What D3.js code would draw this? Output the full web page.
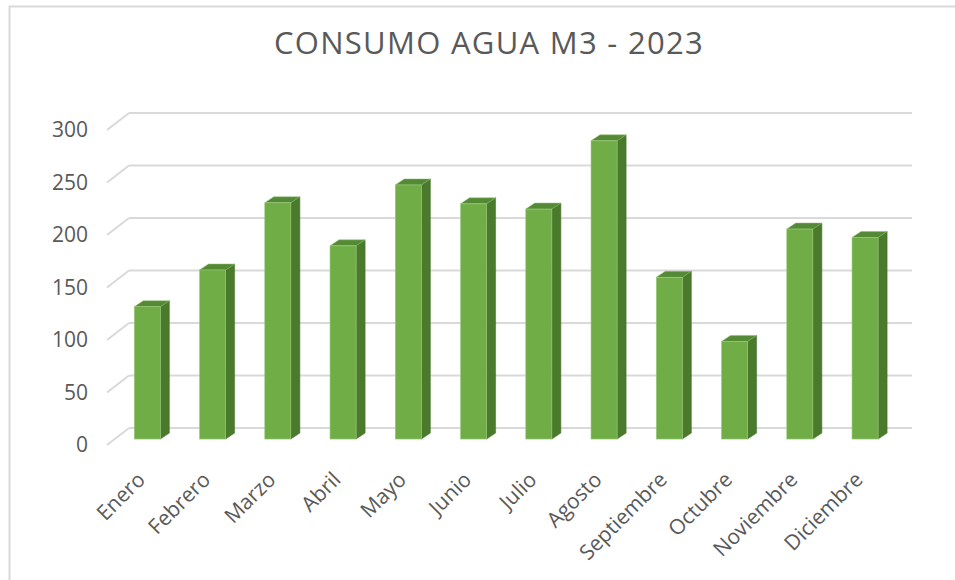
<!DOCTYPE html>
<html>
<head>
<meta charset="utf-8">
<script src="https://cdn.jsdelivr.net/npm/d3@7"></script>
<style>
  body { margin: 0; background: #fff; }
  text { font-family: "Open Sans", "Noto Sans", sans-serif; fill: #595959; }
</style>
</head>
<body>
<script>
var months = ["Enero", "Febrero", "Marzo", "Abril", "Mayo", "Junio", "Julio",
              "Agosto", "Septiembre", "Octubre", "Noviembre", "Diciembre"];
var consumo = [126, 161, 225, 184, 242, 224, 219, 284, 154, 93, 200, 192];
var yTicks = [0, 50, 100, 150, 200, 250, 300];
var title = "CONSUMO AGUA M3 - 2023";

var width = 955, height = 580;

// back wall and depth vector (back -> front)
var backX0 = 129, backX1 = 912;
var depthX = -22, depthY = 17;
var f = 0.65;              // depth of bar front face
var barDX = 9, barDY = -6; // bar thickness

var svg = d3.select("body")
    .append("svg")
    .attr("width", width)
    .attr("height", height);

svg.append("rect")
    .attr("x", 9.5).attr("y", 6.5)
    .attr("width", 1000).attr("height", 1000)
    .attr("fill", "none")
    .attr("stroke", "#d9d9d9")
    .attr("stroke-width", 2);

var yBack = d3.scaleLinear().domain([0, 300]).range([428, 113]);

var yFront = d3.scaleLinear().domain([0, 300])
    .range([yBack(0) + f * depthY, yBack(300) + f * depthY]);

var x = d3.scaleBand().domain(months)
    .range([backX0 + f * depthX, backX1 + f * depthX])
    .paddingInner(0.6)
    .paddingOuter(0.3);

// gridlines on back wall + side wall
var grid = svg.append("g");
yTicks.forEach(function(t) {
  grid.append("line")
      .attr("x1", backX0).attr("x2", backX1)
      .attr("y1", yBack(t)).attr("y2", yBack(t))
      .attr("stroke", "#d9d9d9").attr("stroke-width", 2);
  grid.append("line")
      .attr("x1", backX0 + depthX).attr("y1", yBack(t) + depthY)
      .attr("x2", backX0).attr("y2", yBack(t))
      .attr("stroke", "#d9d9d9").attr("stroke-width", 2);
  svg.append("text")
      .attr("x", 88)
      .attr("y", yBack(t) + depthY)
      .attr("dy", "0.35em")
      .attr("text-anchor", "end")
      .style("font-size", "21px")
      .text(t);
});

// 3d bars
var bars = svg.selectAll(".bar")
    .data(months.map(function(m, i) { return {key: m, value: consumo[i]}; }))
    .enter().append("g")
    .attr("class", "bar");

bars.append("path")   // side
    .attr("d", function(d) {
      var x1 = x(d.key) + x.bandwidth(), y0 = yFront(0), y1 = yFront(d.value);
      return "M" + x1 + "," + y0 + "L" + (x1 + barDX) + "," + (y0 + barDY) +
             "L" + (x1 + barDX) + "," + (y1 + barDY) + "L" + x1 + "," + y1 + "Z";
    })
    .attr("fill", "#4a7a2c")
    .attr("stroke", "#456f29").attr("stroke-width", 0.5);

bars.append("path")   // top
    .attr("d", function(d) {
      var x0 = x(d.key), x1 = x0 + x.bandwidth(), y1 = yFront(d.value);
      return "M" + x0 + "," + y1 + "L" + (x0 + barDX) + "," + (y1 + barDY) +
             "L" + (x1 + barDX) + "," + (y1 + barDY) + "L" + x1 + "," + y1 + "Z";
    })
    .attr("fill", "#548a35")
    .attr("stroke", "#8fbf6c").attr("stroke-width", 0.5);

bars.append("rect")   // front
    .attr("x", function(d) { return x(d.key); })
    .attr("y", function(d) { return yFront(d.value); })
    .attr("width", x.bandwidth())
    .attr("height", function(d) { return yFront(0) - yFront(d.value); })
    .attr("fill", "#70ad47")
    .attr("stroke", "#9ccc7c").attr("stroke-width", 0.6);

// category labels
svg.selectAll(".xlab")
    .data(months)
    .enter().append("text")
    .attr("class", "xlab")
    .attr("text-anchor", "end")
    .style("font-size", "21px")
    .attr("transform", function(d) {
      var cx = x(d) + x.bandwidth() / 2 - 1;
      return "translate(" + cx + "," + 481 + ") rotate(-45)";
    })
    .text(function(d) { return d; });

svg.append("text")
    .attr("x", 489)
    .attr("y", 54)
    .attr("text-anchor", "middle")
    .style("font-size", "31px")
    .style("letter-spacing", "1.3px")
    .text(title);
</script>
</body>
</html>
